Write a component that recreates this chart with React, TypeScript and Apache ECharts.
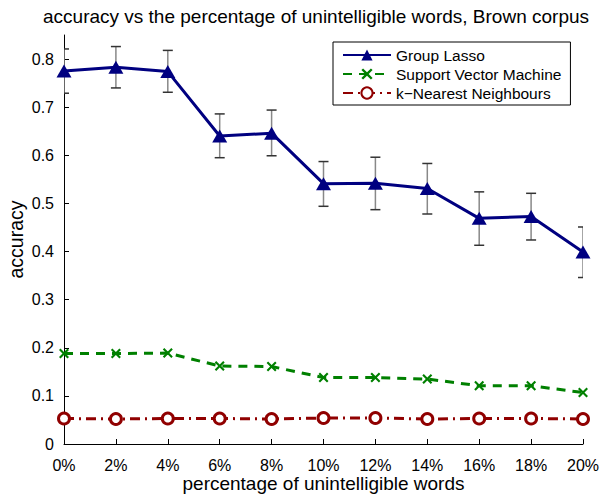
import React, { useEffect, useRef } from "react";
import * as echarts from "echarts";

// percentage of unintelligible words (x positions, in %)
const noiseLevels = [0, 2, 4, 6, 8, 10, 12, 14, 16, 18, 20];

// Group Lasso: mean accuracy and error-bar extents
const lassoMean = [0.775, 0.783, 0.774, 0.640, 0.646, 0.541, 0.542, 0.531, 0.469, 0.473, 0.399];
const lassoLow = [0.729, 0.740, 0.731, 0.595, 0.599, 0.494, 0.487, 0.478, 0.413, 0.424, 0.346];
const lassoHigh = [0.821, 0.826, 0.818, 0.686, 0.694, 0.587, 0.596, 0.583, 0.524, 0.521, 0.451];

// Support Vector Machine accuracy
const svmMean = [0.188, 0.188, 0.189, 0.162, 0.161, 0.138, 0.138, 0.135, 0.121, 0.121, 0.107];

// k-Nearest Neighbours accuracy
const knnMean = [0.053, 0.052, 0.053, 0.053, 0.052, 0.054, 0.054, 0.052, 0.053, 0.053, 0.052];

const yTicks = [0, 0.1, 0.2, 0.3, 0.4, 0.5, 0.6, 0.7, 0.8];

const seriesNames = ["Group Lasso", "Support Vector Machine", "k\u2212Nearest Neighbours"];

const FONT = "Liberation Sans, Arial, Helvetica, sans-serif";
const NAVY = "#000080";
const GREEN = "#008000";
const DARKRED = "#900000";

// filled "x" cross used as the SVM marker
const CROSS_PATH =
  "path://M0,1.5L1.5,0L5,3.5L8.5,0L10,1.5L6.5,5L10,8.5L8.5,10L5,6.5L1.5,10L0,8.5L3.5,5Z";

export default function App() {
  const ref = useRef<HTMLDivElement>(null);

  useEffect(() => {
    if (!ref.current) return;
    const chart = echarts.init(ref.current, undefined, { renderer: "svg" });

    const pairs = (ys: number[]) => noiseLevels.map((x, i) => [x, ys[i]]);
    const errData = noiseLevels.map((x, i) => [x, lassoLow[i], lassoHigh[i]]);

    chart.setOption({
      animation: false,
      backgroundColor: "#fff",
      title: {
        text: "accuracy vs the percentage of unintelligible words, Brown corpus",
        left: 38,
        top: 2,
        textStyle: { fontFamily: FONT, fontSize: 19, fontWeight: "normal", color: "#000" },
      },
      legend: {
        data: seriesNames,
        orient: "vertical",
        left: 333,
        top: 42,
        padding: [5, 9, 4, 9],
        itemGap: 3,
        itemWidth: 48,
        itemHeight: 14,
        borderColor: "#000",
        borderWidth: 1,
        backgroundColor: "#fff",
        textStyle: { fontFamily: FONT, fontSize: 15.5, color: "#000" },
      },
      grid: {
        left: 64,
        right: 24,
        top: 35,
        bottom: 50,
        containLabel: false,
        outerBoundsMode: "none",
      },
      xAxis: {
        type: "value",
        min: 0,
        max: 20,
        interval: 2,
        name: "percentage of unintelligible words",
        nameLocation: "middle",
        nameGap: 30,
        nameMoveOverlap: false,
        nameTextStyle: { fontFamily: FONT, fontSize: 19, lineHeight: 19, color: "#000" },
        axisLine: { lineStyle: { color: "#000", width: 1 } },
        axisTick: { inside: true, length: 5, lineStyle: { color: "#000" } },
        axisLabel: {
          formatter: "{value}%",
          margin: 13,
          fontFamily: FONT,
          fontSize: 16,
          lineHeight: 16,
          color: "#000",
        },
        splitLine: { show: false },
      },
      yAxis: {
        type: "value",
        min: 0,
        max: 0.85,
        interval: 0.1,
        name: "accuracy",
        nameLocation: "middle",
        nameGap: 38,
        nameMoveOverlap: false,
        nameTextStyle: { fontFamily: FONT, fontSize: 19.5, color: "#000" },
        axisLine: { show: true, lineStyle: { color: "#000", width: 1 } },
        axisTick: {
          show: true,
          inside: true,
          length: 5,
          customValues: yTicks,
          lineStyle: { color: "#000" },
        },
        axisLabel: {
          customValues: yTicks,
          formatter: (v: number) => (v === 0 ? "0" : v.toFixed(1)),
          margin: 10,
          fontFamily: FONT,
          fontSize: 16,
          color: "#000",
        },
        splitLine: { show: false },
      },
      series: [
        {
          name: "lasso-error",
          type: "custom",
          clip: true,
          z: 1,
          data: errData,
          encode: { x: 0, y: [1, 2] },
          renderItem: (_params: any, api: any) => {
            const x = api.value(0);
            const lo = api.coord([x, api.value(1)]);
            const hi = api.coord([x, api.value(2)]);
            const w = 5;
            return {
              type: "group",
              children: [
                {
                  type: "line",
                  shape: { x1: lo[0], y1: lo[1], x2: hi[0], y2: hi[1] },
                  style: { stroke: "#888", lineWidth: 1.5 },
                },
                {
                  type: "line",
                  shape: { x1: lo[0] - w, y1: lo[1], x2: lo[0] + w, y2: lo[1] },
                  style: { stroke: "#333", lineWidth: 1.5 },
                },
                {
                  type: "line",
                  shape: { x1: hi[0] - w, y1: hi[1], x2: hi[0] + w, y2: hi[1] },
                  style: { stroke: "#333", lineWidth: 1.5 },
                },
              ],
            };
          },
        },
        {
          name: seriesNames[0],
          type: "line",
          z: 3,
          data: pairs(lassoMean),
          symbol: "triangle",
          symbolSize: [15, 13],
          lineStyle: { color: NAVY, width: 3 },
          itemStyle: { color: NAVY },
        },
        {
          name: seriesNames[1],
          type: "line",
          z: 3,
          data: pairs(svmMean),
          symbol: CROSS_PATH,
          symbolSize: 10,
          lineStyle: { color: GREEN, width: 3, type: [9, 7] },
          itemStyle: { color: GREEN },
        },
        {
          name: seriesNames[2],
          type: "line",
          z: 3,
          data: pairs(knnMean),
          symbol: "circle",
          symbolSize: 11,
          lineStyle: { color: DARKRED, width: 3, type: [10, 5, 2, 5] },
          itemStyle: { color: "#fff", borderColor: DARKRED, borderWidth: 3 },
        },
      ],
    });

    return () => chart.dispose();
  }, []);

  return <div ref={ref} style={{ width: 607, height: 494, position: "absolute", left: 0, top: 0 }} />;
}
